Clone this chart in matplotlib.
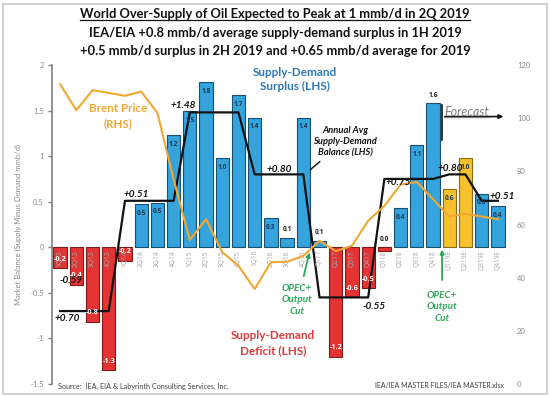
import numpy as np
import matplotlib
matplotlib.use("Agg")
import matplotlib.pyplot as plt
from matplotlib.patches import Rectangle
from matplotlib.lines import Line2D
from matplotlib.ticker import FuncFormatter

plt.rcParams['font.family'] = ['Lato', 'DejaVu Sans']

# ---------------- data ----------------
quarters = ["1Q13", "2Q13", "3Q13", "4Q13", "1Q14", "2Q14", "3Q14", "4Q14",
            "1Q15", "2Q15", "3Q15", "4Q15", "1Q16", "2Q16", "3Q16", "4Q16",
            "Q117", "Q217", "Q317", "Q417", "Q118", "Q218", "Q318", "Q418",
            "Q119E", "Q219E", "Q319E", "Q419E"]
balance = [-0.23, -0.41, -0.82, -1.35, -0.15, 0.47, 0.49, 1.23,
           1.49, 1.81, 0.98, 1.67, 1.42, 0.32, 0.10, 1.42,
           0.07, -1.20, -0.55, -0.45, -0.04, 0.43, 1.12, 1.58,
           0.64, 0.98, 0.59, 0.45]
bar_labels = ["-0.2", "-0.4", "-0.8", "-1.3", "-0.2", "0.5", "0.5", "1.2",
              "1.5", "1.8", "1.0", "1.7", "1.4", "0.3", "0.1", "1.4",
              "0.1", "-1.2", "-0.6", "-0.5", "0.0", "0.4", "1.1", "1.6",
              "0.6", "1.0", "0.6", "0.4"]
annual_avg = [-0.70, -0.70, -0.70, -0.70, 0.51, 0.51, 0.51, 0.51,
              1.48, 1.48, 1.48, 1.48, 0.80, 0.80, 0.80, 0.80,
              -0.55, -0.55, -0.55, -0.55, 0.75, 0.75, 0.75, 0.75,
              0.80, 0.80, 0.51, 0.51]
brent = [112.8, 103.0, 110.5, 109.5, 108.4, 110.0, 102.0, 77.0,
         54.2, 62.0, 49.6, 44.5, 35.7, 45.8, 46.0, 48.2,
         53.9, 50.0, 52.0, 61.4, 67.0, 75.0, 76.0, 69.5,
         63.0, 64.0, 63.0, 62.0]
highlight = ["Q119E", "Q219E"]          # OPEC+ cut quarters shown in yellow
outside_labels = ["3Q16", "Q117", "Q118", "Q418"]

BLUE, BLUE_E = "#35A3DC", "#1B4F72"
RED, RED_E = "#E53333", "#7E1A1A"
YEL, YEL_E = "#F6C02F", "#8A6A12"
ORANGE = "#F0A832"
GREEN = "#2FA55C"
GRAY = "#8C8C8C"
SMALL = ["Open Sans", "DejaVu Sans"]

W, H = 550, 397
fig = plt.figure(figsize=(5.5, 3.97), dpi=100)
fig.add_artist(Rectangle((3 / W, 3 / H), 544 / W, 390 / H, transform=fig.transFigure,
                         fill=False, edgecolor="#C8C8C8", lw=1.2))

ax = fig.add_axes([52 / W, 13 / H, 454 / W, 319 / H])
ax2 = ax.twinx()

x = np.arange(len(quarters))
face, edge = [], []
for q, v in zip(quarters, balance):
    if q in highlight:
        face.append(YEL); edge.append(YEL_E)
    elif v < 0:
        face.append(RED); edge.append(RED_E)
    else:
        face.append(BLUE); edge.append(BLUE_E)
ax.bar(x, balance, width=0.82, color=face, edgecolor=edge, linewidth=0.8, zorder=2)

ax.plot(x, annual_avg, color="#111111", lw=1.6, zorder=3)
ax2.plot(x, brent, color=ORANGE, lw=1.5, zorder=3)

ax.set_xlim(-0.5, len(quarters) - 0.5)
ax.set_ylim(-1.5, 2)
ax2.set_ylim(0, 120)
ax.set_yticks(np.arange(-1.5, 2.01, 0.5))
ax.yaxis.set_major_formatter(FuncFormatter(lambda v, p: f"{v:g}"))
ax2.set_yticks(np.arange(0, 121, 20))
ax.set_xticks([])
for s in ["top", "right", "bottom"]:
    ax.spines[s].set_visible(False)
for s in ax2.spines.values():
    s.set_visible(False)
ax.spines["left"].set_color("#7F7F7F")
ax.spines["left"].set_linewidth(1.2)
ax.tick_params(axis="y", length=3, width=1, color="#7F7F7F", labelcolor=GRAY,
               labelsize=5.5, pad=3)
ax2.tick_params(axis="y", length=0, labelcolor=GRAY, labelsize=5.5, pad=8)
ax.set_ylabel("Market Balance (Supply Minus Demand mmb/d)", fontsize=5.5,
              color=GRAY, labelpad=6)

# category labels just below zero
for i, q in enumerate(quarters):
    ax.text(i, -0.03, q, rotation=90, ha="center", va="top", fontsize=4.8,
            color="#A8A8A8", zorder=4, family=SMALL)

# bar value labels
for i, (q, v, lab) in enumerate(zip(quarters, balance, bar_labels)):
    if q in outside_labels:
        ax.text(i, max(v, 0) + 0.09, lab, ha="center", va="center", fontsize=4.8,
                fontweight="bold", color="#222222", zorder=5, family=SMALL)
    elif v < 0:
        ax.text(i, v + 0.1, lab, ha="center", va="center", fontsize=5.2,
                fontweight="bold", color="white", zorder=5, family=SMALL)
    else:
        ax.text(i, v - 0.1, lab, ha="center", va="center", fontsize=4.8,
                fontweight="bold", color="#1B3550", zorder=5, family=SMALL)

def px(p):
    return (p - 60.1) / 16.21

def py(p):
    return (247.5 - p) / 91.0

T = ax.transData
# annual average value labels
avg_txt = [("+0.70", 55, 319), ("-0.59", 60, 281), ("+0.51", 124, 195),
           ("+1.48", 171, 106), ("+0.80", 266, 170), ("-0.55", 362, 307),
           ("+0.75", 385, 183), ("+0.80", 437, 169), ("+0.51", 489, 197)]
for s, a, b in avg_txt:
    ax2.text(px(a), py(b), s, transform=T, ha="left", va="center", fontsize=7.2,
             fontweight="bold", fontstyle="italic", color="#111111", zorder=6)

fits = []
t = ax2.text(px(295), py(80), "Supply-Demand\nSurplus (LHS)", transform=T, ha="center",
             va="center", fontsize=8.5, fontweight="bold", color="#2E78B8", linespacing=1.4)
fits.append((t, 84))
t = ax2.text(px(273), py(343), "Supply-Demand\nDeficit (LHS)", transform=T, ha="center",
             va="center", fontsize=8.5, fontweight="bold", color="#D83C3C", linespacing=1.4)
fits.append((t, 84))
t = ax2.text(px(118), py(116.5), "Brent Price\n(RHS)", transform=T, ha="center",
             va="center", fontsize=8.5, fontweight="bold", color=ORANGE, linespacing=1.4)
fits.append((t, 58))
t = ax2.text(px(345), py(142), "Annual Avg\nSupply-Demand\nBalance (LHS)", transform=T,
             ha="center", va="center", fontsize=6.5, fontweight="bold", fontstyle="italic",
             color="#111111", linespacing=1.35)
fits.append((t, 64))
ax2.annotate("", xy=(px(308), py(172)), xytext=(px(322), py(160)), xycoords=T,
             textcoords=T, arrowprops=dict(arrowstyle="-", color="#111111", lw=1))

for cx, cy, ax0, ay0, ax1, ay1 in [(297, 300, 303, 279, 310, 250),
                                   (442, 307, 442, 283, 442, 247)]:
    t = ax2.text(px(cx), py(cy), "OPEC+\nOutput\nCut", transform=T, ha="center",
                 va="center", fontsize=7, fontweight="bold", fontstyle="italic",
                 color=GREEN, linespacing=1.35)
    fits.append((t, 31))
    ax2.annotate("", xy=(px(ax1), py(ay1)), xytext=(px(ax0), py(ay0)), xycoords=T,
                 textcoords=T, arrowprops=dict(arrowstyle="-|>", color=GREEN, lw=1.3,
                                               mutation_scale=6))

# forecast marker
ax2.plot([px(442), px(442)], [py(105), py(140)], transform=T, color="#111111", lw=1.2)
ax2.annotate("", xy=(px(506), py(117)), xytext=(px(442), py(117)), xycoords=T,
             textcoords=T, arrowprops=dict(arrowstyle="-|>", color="#111111", lw=1.2,
                                           mutation_scale=6))
fc = ax2.text(px(444), py(112), "Forecast", transform=T, ha="left", va="center",
              fontsize=8, fontstyle="italic", color="#7F7F7F")
fits.append((fc, 45))

# titles
title_specs = [("World Over-Supply of Oil Expected to Peak at 1 mmb/d in 2Q 2019", 14, 390),
               ("IEA/EIA +0.8 mmb/d average supply-demand surplus in 1H 2019", 33, 372),
               ("+0.5 mmb/d surplus in 2H 2019 and +0.65 mmb/d average for 2019", 51, 392)]
titles = []
for s, yy, ww in title_specs:
    t = fig.text(275 / W, 1 - yy / H, s, ha="center", va="center", fontsize=9,
                 fontweight="bold", color="#111111")
    titles.append(t)
    fits.append((t, ww))

src = fig.text(58 / W, 1 - 386 / H, "Source:  IEA, EIA & Labyrinth Consulting Services, Inc.",
               ha="left", va="center", fontsize=5.5, color="#404040")
fits.append((src, 172))
fl = fig.text(504 / W, 1 - 386 / H, "IEA/IEA MASTER FILES/IEA MASTER.xlsx",
              ha="right", va="center", fontsize=5.5, color="#404040")
fits.append((fl, 130))

fig.canvas.draw()
r = fig.canvas.get_renderer()
for t, ww in fits:
    bb = t.get_window_extent(r)
    t.set_fontsize(t.get_fontsize() * ww / bb.width)
fig.canvas.draw()

# underlines
for t, col in [(titles[0], "#111111"), (fc, "#7F7F7F")]:
    bb = t.get_window_extent(r)
    yline = bb.y0 + 0.5
    fig.add_artist(Line2D([bb.x0 / W, bb.x1 / W], [yline / H, yline / H],
                          transform=fig.transFigure, color=col, lw=0.9))

fig.savefig("out.png", dpi=100)
